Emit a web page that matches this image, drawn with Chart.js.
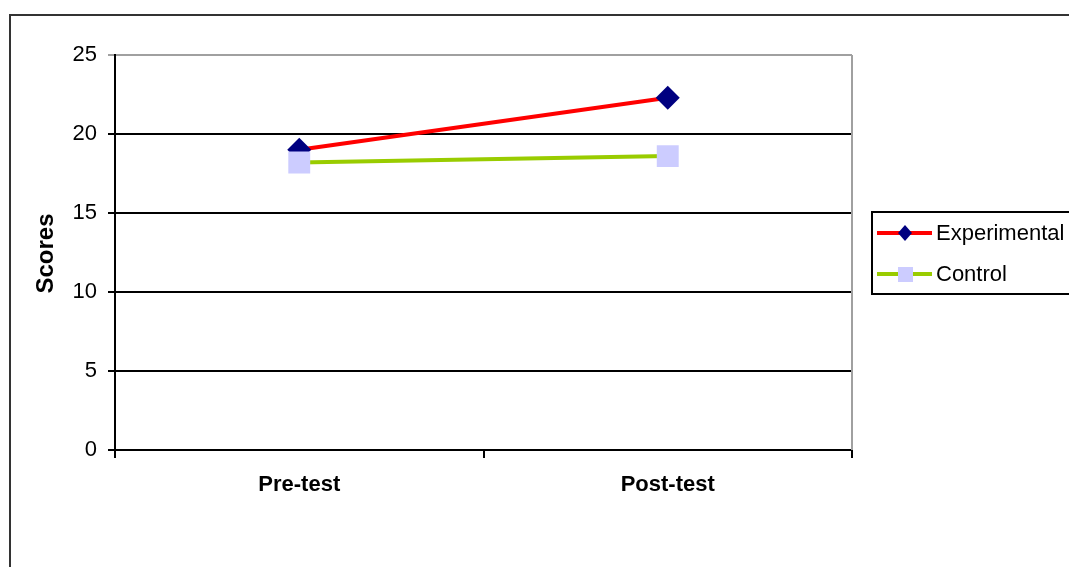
<!DOCTYPE html>
<html>
<head>
<meta charset="utf-8">
<title>Scores</title>
<script src="https://cdn.jsdelivr.net/npm/chart.js@4.4.0/dist/chart.umd.min.js"></script>
<style>
  html, body { margin: 0; padding: 0; background: #fff; }
  #wrap { width: 1069px; height: 567px; position: relative; }
</style>
</head>
<body>
<div id="wrap"><canvas id="myChart" width="1069" height="567"></canvas></div>
<script>
const categories = ["Pre-test", "Post-test"];
const experimental = [19.0, 22.3];
const control = [18.2, 18.6];
const yTicks = [0, 5, 10, 15, 20, 25];

const FONT = "'Liberation Sans', Arial, sans-serif";

// frame, right border of plot, y title and the legend box
const extras = {
  id: "extras",
  beforeDraw(chart) {
    const c = chart.ctx;
    c.save();
    c.fillStyle = "#fff";
    c.fillRect(0, 0, chart.width, chart.height);
    c.strokeStyle = "#333";
    c.lineWidth = 2;
    c.strokeRect(10, 15, chart.width + 20, chart.height + 20);
    c.restore();
  },
  afterDraw(chart) {
    const c = chart.ctx;
    const a = chart.chartArea;
    c.save();
    c.strokeStyle = "#a0a0a0";
    c.lineWidth = 2;
    c.beginPath();
    c.moveTo(a.right, a.top);
    c.lineTo(a.right, a.bottom);
    c.stroke();

    c.fillStyle = "#000";
    c.font = "bold 24px " + FONT;
    c.textAlign = "center";
    c.textBaseline = "middle";
    c.translate(46, (a.top + a.bottom) / 2 + 1);
    c.rotate(-Math.PI / 2);
    c.fillText("Scores", 0, 0);
    c.restore();

    // legend
    c.save();
    c.strokeStyle = "#000";
    c.lineWidth = 2;
    c.strokeRect(872, 212, 220, 82);
    const rows = [233, 274];
    chart.data.datasets.forEach((ds, i) => {
      const y = rows[i];
      c.strokeStyle = ds.borderColor;
      c.lineWidth = 4;
      c.beginPath();
      c.moveTo(877, y);
      c.lineTo(932, y);
      c.stroke();
      c.fillStyle = ds.pointBackgroundColor;
      if (ds.pointStyle === "rectRot") {
        c.beginPath();
        c.moveTo(905, y - 8);
        c.lineTo(912, y);
        c.lineTo(905, y + 8);
        c.lineTo(898, y);
        c.closePath();
        c.fill();
      } else {
        c.fillRect(898, y - 7, 15, 15);
      }
      c.fillStyle = "#000";
      c.font = "22px " + FONT;
      c.textAlign = "left";
      c.textBaseline = "middle";
      c.fillText(ds.label, 936, y + 1);
    });
    c.restore();
  }
};

new Chart(document.getElementById("myChart"), {
  type: "line",
  data: {
    labels: categories,
    datasets: [
      {
        label: "Experimental",
        data: experimental,
        borderColor: "#ff0000",
        borderWidth: 4,
        pointStyle: "rectRot",
        pointRadius: 12,
        pointBackgroundColor: "#000080",
        pointBorderColor: "#000080",
        pointBorderWidth: 0,
        order: 1
      },
      {
        label: "Control",
        data: control,
        borderColor: "#99cc00",
        borderWidth: 4,
        pointStyle: "rect",
        pointRadius: 15.5,
        pointBackgroundColor: "#ccccff",
        pointBorderColor: "#ccccff",
        pointBorderWidth: 0,
        order: 0
      }
    ]
  },
  options: {
    responsive: false,
    animation: false,
    layout: { padding: { left: 0, top: 55, right: 217, bottom: 0 } },
    plugins: { legend: { display: false }, tooltip: { enabled: false } },
    elements: { line: { tension: 0 } },
    scales: {
      x: {
        offset: true,
        afterFit: (s) => { s.height = 117; },
        grid: { drawOnChartArea: false, offset: true, tickLength: 8, color: "#000", lineWidth: 2 },
        border: { color: "#000", width: 2 },
        ticks: { color: "#000", padding: 14, font: { family: FONT, size: 22, weight: "bold" } }
      },
      y: {
        min: 0,
        max: 25,
        afterFit: (s) => { s.width = 115; },
        afterBuildTicks: (s) => { s.ticks = yTicks.map((v) => ({ value: v })); },
        grid: {
          color: (ctx) => (ctx.tick && ctx.tick.value === 25 ? "#a0a0a0" : "#000"),
          lineWidth: 2,
          tickLength: 7
        },
        border: { color: "#000", width: 2 },
        ticks: { color: "#000", padding: 11, font: { family: FONT, size: 22 } }
      }
    }
  },
  plugins: [extras]
});
</script>
</body>
</html>
